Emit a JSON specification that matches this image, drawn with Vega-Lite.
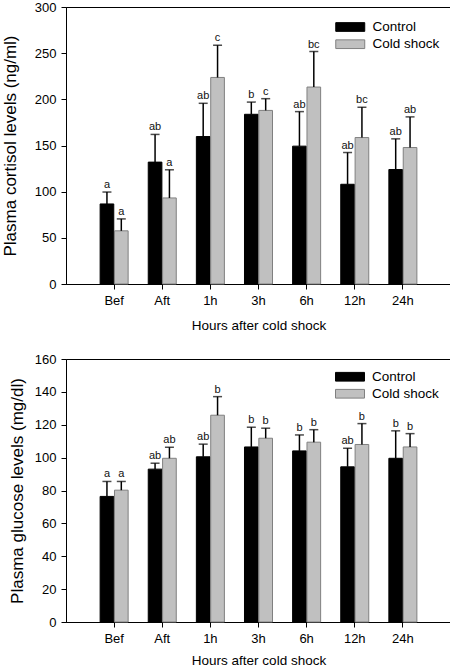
{
  "$schema": "https://vega.github.io/schema/vega-lite/v6.json",
  "padding": {"top": 0, "left": 0, "right": 1, "bottom": 0},
  "spacing": 20,
  "config": {
    "font": "Liberation Sans",
    "view": {"stroke": "#000000", "strokeWidth": 1},
    "axis": {
      "grid": false,
      "domainColor": "#000000",
      "tickColor": "#000000",
      "tickSize": 5,
      "labelColor": "#000000",
      "titleColor": "#000000",
      "labelFontSize": 13,
      "labelOverlap": false,
      "titleFontWeight": "normal"
    },
    "legend": {"padding": 0}
  },
  "datasets": {
    "cortisol": [
      {"time": "Bef", "group": "Control", "mean": 86.7, "upper": 99.6, "letter": "a"},
      {"time": "Aft", "group": "Control", "mean": 132, "upper": 162, "letter": "ab"},
      {"time": "1h", "group": "Control", "mean": 159.7, "upper": 195.7, "letter": "ab"},
      {"time": "3h", "group": "Control", "mean": 183.8, "upper": 197, "letter": "b"},
      {"time": "6h", "group": "Control", "mean": 149.3, "upper": 186.7, "letter": "ab"},
      {"time": "12h", "group": "Control", "mean": 108, "upper": 142.4, "letter": "ab"},
      {"time": "24h", "group": "Control", "mean": 124, "upper": 157.2, "letter": "ab"},
      {"time": "Bef", "group": "Cold shock", "mean": 57.6, "upper": 70.5, "letter": "a"},
      {"time": "Aft", "group": "Cold shock", "mean": 93.2, "upper": 123.7, "letter": "a"},
      {"time": "1h", "group": "Cold shock", "mean": 223.7, "upper": 258.6, "letter": "c"},
      {"time": "3h", "group": "Cold shock", "mean": 188, "upper": 200.7, "letter": "c"},
      {"time": "6h", "group": "Cold shock", "mean": 213.3, "upper": 251.8, "letter": "bc"},
      {"time": "12h", "group": "Cold shock", "mean": 158.6, "upper": 191.4, "letter": "bc"},
      {"time": "24h", "group": "Cold shock", "mean": 147.8, "upper": 181, "letter": "ab"}
    ],
    "glucose": [
      {"time": "Bef", "group": "Control", "mean": 76.4, "upper": 85.5, "letter": "a"},
      {"time": "Aft", "group": "Control", "mean": 93, "upper": 96.6, "letter": "ab"},
      {"time": "1h", "group": "Control", "mean": 100.5, "upper": 108.2, "letter": "ab"},
      {"time": "3h", "group": "Control", "mean": 106.5, "upper": 118.5, "letter": "b"},
      {"time": "6h", "group": "Control", "mean": 104.1, "upper": 113.8, "letter": "b"},
      {"time": "12h", "group": "Control", "mean": 94.4, "upper": 105.7, "letter": "ab"},
      {"time": "24h", "group": "Control", "mean": 99.6, "upper": 116.3, "letter": "b"},
      {"time": "Bef", "group": "Cold shock", "mean": 80.2, "upper": 85.5, "letter": "a"},
      {"time": "Aft", "group": "Cold shock", "mean": 99.6, "upper": 106.3, "letter": "ab"},
      {"time": "1h", "group": "Cold shock", "mean": 125.8, "upper": 137.1, "letter": "b"},
      {"time": "3h", "group": "Cold shock", "mean": 111.8, "upper": 117.9, "letter": "b"},
      {"time": "6h", "group": "Cold shock", "mean": 109.4, "upper": 117, "letter": "b"},
      {"time": "12h", "group": "Cold shock", "mean": 108, "upper": 120.7, "letter": "b"},
      {"time": "24h", "group": "Cold shock", "mean": 106.5, "upper": 114.6, "letter": "b"}
    ]
  },
  "vconcat": [
    {
      "width": 385,
      "height": 277,
      "data": {"name": "cortisol"},
      "encoding": {
        "x": {
          "field": "time",
          "type": "nominal",
          "sort": ["Bef", "Aft", "1h", "3h", "6h", "12h", "24h"],
          "scale": {"paddingInner": 0.418, "paddingOuter": 0.709},
          "axis": {"labelAngle": 0, "labelPadding": 5, "title": "Hours after cold shock", "titleFontSize": 13.5, "titlePadding": 11}
        },
        "xOffset": {
          "field": "group",
          "type": "nominal",
          "sort": ["Control", "Cold shock"],
          "scale": {"paddingInner": 0.05}
        }
      },
      "layer": [
        {
          "mark": {"type": "bar", "strokeWidth": 1},
          "encoding": {
            "y": {
              "field": "mean",
              "type": "quantitative",
              "scale": {"domain": [0, 300], "nice": false},
              "axis": {"values": [0, 50, 100, 150, 200, 250, 300], "labelPadding": 5, "title": "Plasma cortisol levels (ng/ml)", "titleFontSize": 17, "titlePadding": 15}
            },
            "color": {
              "field": "group",
              "type": "nominal",
              "scale": {"domain": ["Control", "Cold shock"], "range": ["#000000", "#c0c0c0"]},
              "legend": {
                "title": null,
                "orient": "none",
                "legendX": 276.25,
                "legendY": 12,
                "symbolType": "M-2,-0.6H2V0.6H-2Z",
                "symbolSize": 210,
                "symbolStrokeWidth": 1,
                "symbolOpacity": 1,
                "labelOffset": 14.3,
                "labelFontSize": 13.5,
                "labelColor": "#000000",
                "rowPadding": 2.2
              }
            },
            "stroke": {
              "field": "group",
              "type": "nominal",
              "scale": {"domain": ["Control", "Cold shock"], "range": ["#000000", "#808080"]}
            }
          }
        },
        {
          "mark": {"type": "rule", "color": "#000000", "strokeWidth": 1.5},
          "encoding": {
            "y": {
              "field": "mean",
              "type": "quantitative",
              "axis": {"values": [0, 50, 100, 150, 200, 250, 300], "labelPadding": 5, "title": "Plasma cortisol levels (ng/ml)", "titleFontSize": 17, "titlePadding": 15}
            },
            "y2": {"field": "upper"}
          }
        },
        {
          "mark": {"type": "tick", "color": "#000000", "thickness": 1.5, "size": 9, "orient": "horizontal"},
          "encoding": {
            "y": {
              "field": "upper",
              "type": "quantitative",
              "axis": {"values": [0, 50, 100, 150, 200, 250, 300], "labelPadding": 5, "title": "Plasma cortisol levels (ng/ml)", "titleFontSize": 17, "titlePadding": 15}
            }
          }
        },
        {
          "mark": {"type": "text", "baseline": "bottom", "dy": -2, "fontSize": 11, "fill": "#111111"},
          "encoding": {
            "y": {
              "field": "upper",
              "type": "quantitative",
              "axis": {"values": [0, 50, 100, 150, 200, 250, 300], "labelPadding": 5, "title": "Plasma cortisol levels (ng/ml)", "titleFontSize": 17, "titlePadding": 15}
            },
            "text": {"field": "letter"}
          }
        }
      ]
    },
    {
      "width": 385,
      "height": 263,
      "data": {"name": "glucose"},
      "encoding": {
        "x": {
          "field": "time",
          "type": "nominal",
          "sort": ["Bef", "Aft", "1h", "3h", "6h", "12h", "24h"],
          "scale": {"paddingInner": 0.418, "paddingOuter": 0.709},
          "axis": {"labelAngle": 0, "labelPadding": 5, "title": "Hours after cold shock", "titleFontSize": 13.5, "titlePadding": 8}
        },
        "xOffset": {
          "field": "group",
          "type": "nominal",
          "sort": ["Control", "Cold shock"],
          "scale": {"paddingInner": 0.05}
        }
      },
      "layer": [
        {
          "mark": {"type": "bar", "strokeWidth": 1},
          "encoding": {
            "y": {
              "field": "mean",
              "type": "quantitative",
              "scale": {"domain": [0, 160], "nice": false},
              "axis": {"values": [0, 20, 40, 60, 80, 100, 120, 140, 160], "labelPadding": 5, "title": "Plasma glucose levels (mg/dl)", "titleFontSize": 17, "titlePadding": 8}
            },
            "color": {
              "field": "group",
              "type": "nominal",
              "scale": {"domain": ["Control", "Cold shock"], "range": ["#000000", "#c0c0c0"]},
              "legend": {
                "title": null,
                "orient": "none",
                "legendX": 276,
                "legendY": 9.75,
                "symbolType": "M-2,-0.6H2V0.6H-2Z",
                "symbolSize": 210,
                "symbolStrokeWidth": 1,
                "symbolOpacity": 1,
                "labelOffset": 14,
                "labelFontSize": 13.5,
                "labelColor": "#000000",
                "rowPadding": 2
              }
            },
            "stroke": {
              "field": "group",
              "type": "nominal",
              "scale": {"domain": ["Control", "Cold shock"], "range": ["#000000", "#808080"]}
            }
          }
        },
        {
          "mark": {"type": "rule", "color": "#000000", "strokeWidth": 1.5},
          "encoding": {
            "y": {
              "field": "mean",
              "type": "quantitative",
              "axis": {"values": [0, 20, 40, 60, 80, 100, 120, 140, 160], "labelPadding": 5, "title": "Plasma glucose levels (mg/dl)", "titleFontSize": 17, "titlePadding": 8}
            },
            "y2": {"field": "upper"}
          }
        },
        {
          "mark": {"type": "tick", "color": "#000000", "thickness": 1.5, "size": 9, "orient": "horizontal"},
          "encoding": {
            "y": {
              "field": "upper",
              "type": "quantitative",
              "axis": {"values": [0, 20, 40, 60, 80, 100, 120, 140, 160], "labelPadding": 5, "title": "Plasma glucose levels (mg/dl)", "titleFontSize": 17, "titlePadding": 8}
            }
          }
        },
        {
          "mark": {"type": "text", "baseline": "bottom", "dy": -2, "fontSize": 11, "fill": "#111111"},
          "encoding": {
            "y": {
              "field": "upper",
              "type": "quantitative",
              "axis": {"values": [0, 20, 40, 60, 80, 100, 120, 140, 160], "labelPadding": 5, "title": "Plasma glucose levels (mg/dl)", "titleFontSize": 17, "titlePadding": 8}
            },
            "text": {"field": "letter"}
          }
        }
      ]
    }
  ],
  "resolve": {"scale": {"color": "independent", "stroke": "independent", "y": "independent"}}
}
